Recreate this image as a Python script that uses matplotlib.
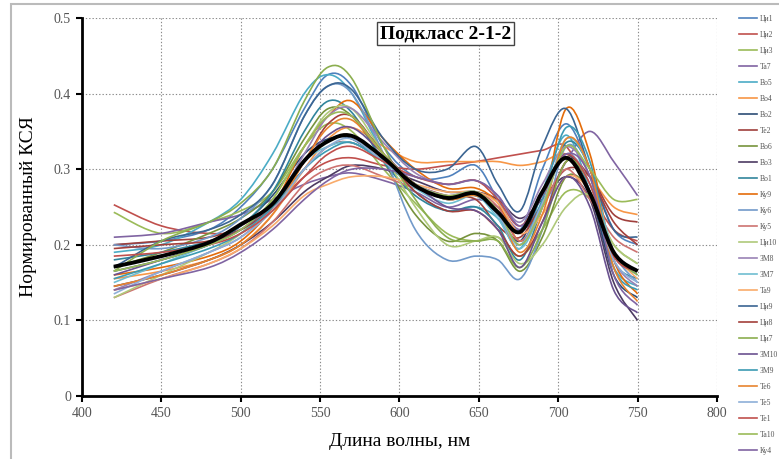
import matplotlib
matplotlib.use("Agg")
import matplotlib.pyplot as plt
from matplotlib.path import Path
from matplotlib.patches import PathPatch, Rectangle
from matplotlib.lines import Line2D

plt.rcParams['font.family'] = ['Liberation Serif', 'DejaVu Serif']

# wavelength grid (nm)
wl = [420, 450, 480, 500, 520, 540, 555, 570, 590, 610, 630, 648, 662, 676, 690, 705, 720, 735, 750]

names = ["Ци1", "Ци2", "Ци3", "Та7", "Во5", "Во4", "Во2", "Те2", "Во6", "Во3", "Во1", "Ку9",
         "Ку6", "Ку5", "Ци10", "ЗМ8", "ЗМ7", "Та9", "Ци9", "Ци8", "Ци7", "ЗМ10", "ЗМ9", "Те6",
         "Те5", "Те1", "Та10", "Ку4"]

colors = ["#4F81BD", "#C0504D", "#9BBB59", "#8064A2", "#4BACC6", "#F79646",
          "#2C4D75", "#A0403C", "#77933C", "#4D3B62", "#31859C", "#E46C0A",
          "#729ACA", "#CD7371", "#AFC97A", "#9983B5", "#6FBDD1", "#F9AB6B",
          "#3B6592", "#A33F3B", "#8BAE4F", "#6B5290", "#3C9BB3", "#E8842F",
          "#8EAFD8", "#C0504D", "#9BBB59", "#8064A2"]

series = [
    [0.200, 0.205, 0.220, 0.250, 0.300, 0.380, 0.425, 0.410, 0.330, 0.290, 0.290, 0.305, 0.260, 0.220, 0.300, 0.360, 0.300, 0.220, 0.200],
    [0.253, 0.225, 0.215, 0.220, 0.250, 0.290, 0.310, 0.315, 0.305, 0.300, 0.305, 0.310, 0.315, 0.320, 0.325, 0.330, 0.270, 0.220, 0.205],
    [0.243, 0.215, 0.230, 0.245, 0.270, 0.330, 0.360, 0.350, 0.300, 0.255, 0.215, 0.205, 0.210, 0.185, 0.220, 0.270, 0.260, 0.200, 0.175],
    [0.210, 0.215, 0.230, 0.240, 0.260, 0.280, 0.290, 0.295, 0.285, 0.270, 0.250, 0.260, 0.250, 0.220, 0.250, 0.310, 0.350, 0.310, 0.265],
    [0.190, 0.200, 0.230, 0.260, 0.320, 0.400, 0.425, 0.400, 0.320, 0.270, 0.245, 0.250, 0.235, 0.195, 0.270, 0.345, 0.270, 0.170, 0.145],
    [0.155, 0.165, 0.180, 0.200, 0.240, 0.300, 0.340, 0.355, 0.330, 0.310, 0.310, 0.310, 0.310, 0.305, 0.310, 0.320, 0.290, 0.250, 0.240],
    [0.165, 0.180, 0.200, 0.225, 0.265, 0.320, 0.340, 0.340, 0.310, 0.280, 0.260, 0.265, 0.240, 0.205, 0.270, 0.320, 0.270, 0.160, 0.130],
    [0.200, 0.205, 0.210, 0.225, 0.255, 0.300, 0.330, 0.335, 0.310, 0.280, 0.265, 0.260, 0.225, 0.210, 0.255, 0.300, 0.290, 0.240, 0.230],
    [0.170, 0.190, 0.215, 0.235, 0.270, 0.340, 0.380, 0.370, 0.310, 0.240, 0.205, 0.215, 0.205, 0.165, 0.210, 0.290, 0.270, 0.190, 0.165],
    [0.145, 0.160, 0.180, 0.200, 0.230, 0.270, 0.290, 0.305, 0.300, 0.285, 0.270, 0.270, 0.260, 0.235, 0.260, 0.290, 0.260, 0.150, 0.100],
    [0.180, 0.190, 0.205, 0.225, 0.270, 0.350, 0.390, 0.375, 0.310, 0.265, 0.245, 0.250, 0.225, 0.180, 0.250, 0.335, 0.300, 0.180, 0.155],
    [0.160, 0.170, 0.185, 0.205, 0.250, 0.330, 0.370, 0.390, 0.340, 0.300, 0.275, 0.275, 0.255, 0.205, 0.250, 0.380, 0.320, 0.180, 0.135],
    [0.200, 0.195, 0.210, 0.235, 0.280, 0.370, 0.410, 0.400, 0.320, 0.220, 0.180, 0.185, 0.180, 0.155, 0.220, 0.330, 0.290, 0.190, 0.150],
    [0.130, 0.155, 0.175, 0.195, 0.230, 0.280, 0.300, 0.305, 0.290, 0.275, 0.265, 0.270, 0.250, 0.205, 0.250, 0.300, 0.260, 0.210, 0.190],
    [0.130, 0.160, 0.190, 0.215, 0.260, 0.330, 0.375, 0.380, 0.320, 0.250, 0.200, 0.205, 0.210, 0.175, 0.200, 0.250, 0.265, 0.200, 0.175],
    [0.140, 0.165, 0.190, 0.210, 0.250, 0.320, 0.370, 0.380, 0.335, 0.295, 0.280, 0.285, 0.265, 0.230, 0.280, 0.330, 0.290, 0.180, 0.145],
    [0.150, 0.175, 0.200, 0.220, 0.255, 0.310, 0.330, 0.335, 0.310, 0.275, 0.255, 0.265, 0.235, 0.195, 0.250, 0.340, 0.300, 0.190, 0.160],
    [0.140, 0.155, 0.175, 0.195, 0.225, 0.265, 0.280, 0.290, 0.290, 0.280, 0.270, 0.270, 0.255, 0.215, 0.240, 0.290, 0.270, 0.190, 0.155],
    [0.170, 0.205, 0.220, 0.240, 0.280, 0.370, 0.410, 0.405, 0.340, 0.300, 0.300, 0.330, 0.280, 0.245, 0.330, 0.380, 0.300, 0.220, 0.210],
    [0.195, 0.200, 0.205, 0.220, 0.250, 0.310, 0.360, 0.370, 0.320, 0.270, 0.245, 0.245, 0.220, 0.185, 0.230, 0.310, 0.290, 0.230, 0.200],
    [0.165, 0.205, 0.230, 0.255, 0.300, 0.390, 0.435, 0.420, 0.330, 0.260, 0.210, 0.205, 0.205, 0.170, 0.220, 0.310, 0.280, 0.190, 0.160],
    [0.160, 0.180, 0.200, 0.220, 0.255, 0.310, 0.345, 0.355, 0.320, 0.280, 0.250, 0.245, 0.220, 0.170, 0.230, 0.290, 0.250, 0.140, 0.110],
    [0.155, 0.175, 0.195, 0.215, 0.250, 0.300, 0.325, 0.335, 0.310, 0.280, 0.260, 0.270, 0.240, 0.200, 0.260, 0.355, 0.310, 0.170, 0.140],
    [0.145, 0.160, 0.180, 0.200, 0.240, 0.310, 0.355, 0.365, 0.320, 0.280, 0.260, 0.265, 0.245, 0.190, 0.240, 0.340, 0.300, 0.170, 0.125],
    [0.135, 0.165, 0.190, 0.210, 0.245, 0.300, 0.330, 0.340, 0.310, 0.280, 0.265, 0.270, 0.240, 0.200, 0.255, 0.320, 0.280, 0.180, 0.150],
    [0.185, 0.190, 0.200, 0.215, 0.245, 0.290, 0.320, 0.330, 0.310, 0.290, 0.280, 0.285, 0.260, 0.225, 0.270, 0.320, 0.280, 0.185, 0.165],
    [0.165, 0.180, 0.200, 0.220, 0.260, 0.330, 0.370, 0.370, 0.320, 0.280, 0.265, 0.270, 0.245, 0.200, 0.250, 0.330, 0.300, 0.260, 0.260],
    [0.140, 0.155, 0.170, 0.190, 0.220, 0.260, 0.285, 0.300, 0.300, 0.290, 0.280, 0.285, 0.265, 0.225, 0.265, 0.320, 0.290, 0.160, 0.120],
]

# mean curve (thick black)
mean = [0.171, 0.185, 0.203, 0.227, 0.254, 0.311, 0.337, 0.344, 0.315, 0.278, 0.262, 0.268, 0.243, 0.217, 0.270, 0.315, 0.268, 0.190, 0.165]


def smooth_path(x, y):
    # Excel-style smoothed line: cubic Bezier through the points
    verts = [(x[0], y[0])]
    codes = [Path.MOVETO]
    n = len(x)
    for i in range(n - 1):
        x0, y0 = (x[i - 1], y[i - 1]) if i > 0 else (x[i], y[i])
        x3, y3 = (x[i + 2], y[i + 2]) if i + 2 < n else (x[i + 1], y[i + 1])
        c1 = (x[i] + (x[i + 1] - x0) / 6, y[i] + (y[i + 1] - y0) / 6)
        c2 = (x[i + 1] - (x3 - x[i]) / 6, y[i + 1] - (y3 - y[i]) / 6)
        verts += [c1, c2, (x[i + 1], y[i + 1])]
        codes += [Path.CURVE4] * 3
    return Path(verts, codes)


fig = plt.figure(figsize=(7.79, 4.59), dpi=100)
ax = fig.add_axes([0.1053, 0.1373, 0.8150, 0.8235])

handles = []
for name, col, vals in zip(names, colors, series):
    ax.add_patch(PathPatch(smooth_path(wl, vals), fill=False, edgecolor=col, lw=1.2, zorder=2))
    handles.append(Line2D([], [], color=col, lw=1.2, label=name))

ax.add_patch(PathPatch(smooth_path(wl, mean), fill=False, edgecolor="black", lw=2.8, zorder=3))

ax.set_xlim(400, 800)
ax.set_ylim(0, 0.5)
ax.set_xticks(range(400, 801, 50))
ax.set_yticks([0, 0.1, 0.2, 0.3, 0.4, 0.5])
ax.set_yticklabels(["0", "0.1", "0.2", "0.3", "0.4", "0.5"])
ax.grid(True, color="#8a8a8a", linestyle=(0, (1.2, 1.8)), lw=0.8, zorder=0)
ax.set_axisbelow(True)

for s in ["top", "right"]:
    ax.spines[s].set_visible(False)
for s in ["left", "bottom"]:
    ax.spines[s].set_linewidth(2)
    ax.spines[s].set_color("black")
ax.tick_params(direction="out", length=4, width=1.5, color="black",
               labelsize=10, labelcolor="#555555", pad=4)

ax.set_xlabel("Длина волны, нм", fontsize=14, labelpad=9)
ax.set_ylabel("Нормированный КСЯ", fontsize=14, labelpad=12)

ax.text(0.572, 0.958, "Подкласс 2-1-2", transform=ax.transAxes, ha="center", va="center",
        fontsize=14, fontweight="bold",
        bbox=dict(boxstyle="square,pad=0.15", facecolor="white", edgecolor="#444444", lw=1))

leg = fig.legend(handles=handles, loc="upper left", bbox_to_anchor=(739 / 779, 1 - 15 / 459),
                 fontsize=5.5, frameon=False, handlelength=2.4, handletextpad=0.3,
                 labelspacing=1.045, borderaxespad=0, borderpad=0)
for t in leg.get_texts():
    t.set_color("#555555")

# chart area border
fig.patches.append(Rectangle((11 / 779, -0.1), 1.2, 1.1 - 4 / 459, transform=fig.transFigure,
                             fill=False, edgecolor="#bbbbbb", lw=1.5))

fig.savefig("out.png", dpi=100)
